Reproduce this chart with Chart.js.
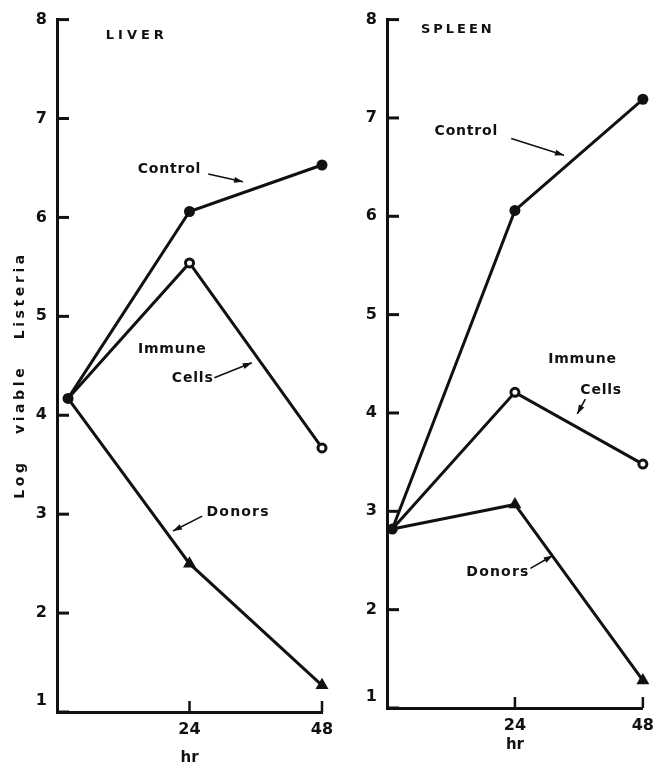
<!DOCTYPE html>
<html>
<head>
<meta charset="utf-8">
<script src="https://cdn.jsdelivr.net/npm/chart.js@4.4.0/dist/chart.umd.min.js"></script>
<style>
  html, body { margin: 0; padding: 0; background: #fff; }
  #wrap { position: relative; width: 662px; height: 767px; overflow: hidden; }
  canvas { position: absolute; top: 0; }
  #liver { left: 0; }
  #spleen { left: 345px; }
</style>
</head>
<body>
<div id="wrap">
  <canvas id="liver" width="345" height="767"></canvas>
  <canvas id="spleen" width="317" height="767"></canvas>
</div>
<script>
// hours after transfer, log viable Listeria
var liverHours = [2, 24, 48];
var liverControl = [4.17, 6.06, 6.53];
var liverImmune = [4.17, 5.54, 3.67];
var liverDonors = [4.17, 2.50, 1.27];

var spleenHours = [1, 24, 48];
var spleenControl = [2.82, 6.06, 7.19];
var spleenImmune = [2.82, 4.21, 3.48];
var spleenDonors = [2.82, 3.07, 1.28];

var yTicks = [1, 2, 3, 4, 5, 6, 7, 8];
var xTicks = [24, 48];

var ink = '#111';
var family = "'DejaVu Sans', sans-serif";

function points(hours, values) {
  return hours.map((h, i) => ({ x: h, y: values[i] }));
}

// the first point is shared, only the control marker shows there
function series(hours, values, kind) {
  var ds = {
    data: points(hours, values),
    borderColor: ink,
    borderWidth: 3,
    tension: 0,
    clip: false,
    pointBorderColor: ink
  };
  if (kind === 'control') {
    ds.pointStyle = 'circle';
    ds.pointRadius = 5.5;
    ds.pointBackgroundColor = ink;
    ds.pointBorderWidth = 0;
  } else if (kind === 'immune') {
    ds.pointStyle = 'circle';
    ds.pointRadius = ctx => ctx.dataIndex === 0 ? 0 : 4;
    ds.pointBackgroundColor = '#fff';
    ds.pointBorderWidth = 3;
  } else {
    ds.pointStyle = 'triangle';
    ds.pointRadius = ctx => ctx.dataIndex === 0 ? 0 : 7.5;
    ds.pointBackgroundColor = ink;
    ds.pointBorderWidth = 0;
  }
  return ds;
}

function arrowHead(ctx, x1, y1, x2, y2) {
  var a = Math.atan2(y2 - y1, x2 - x1);
  ctx.beginPath();
  ctx.moveTo(x2, y2);
  ctx.lineTo(x2 - 9 * Math.cos(a) + 3 * Math.sin(a), y2 - 9 * Math.sin(a) - 3 * Math.cos(a));
  ctx.lineTo(x2 - 9 * Math.cos(a) - 3 * Math.sin(a), y2 - 9 * Math.sin(a) + 3 * Math.cos(a));
  ctx.closePath();
  ctx.fill();
}

var paper = {
  id: 'paper',
  afterDraw(chart, args, opts) {
    var ctx = chart.ctx, x = chart.scales.x, y = chart.scales.y, area = chart.chartArea;
    ctx.save();
    ctx.strokeStyle = ink;
    ctx.fillStyle = ink;

    // tick marks point inward, as on the plate
    ctx.lineWidth = 3;
    yTicks.forEach(v => {
      var py = y.getPixelForValue(v);
      ctx.beginPath();
      ctx.moveTo(area.left, py);
      ctx.lineTo(area.left + 12, py);
      ctx.stroke();
    });
    ctx.lineWidth = 2.5;
    xTicks.forEach(v => {
      var px = x.getPixelForValue(v);
      ctx.beginPath();
      ctx.moveTo(px, area.bottom);
      ctx.lineTo(px, area.bottom - 11);
      ctx.stroke();
    });

    // lowest label sits a little above the x axis
    ctx.font = 'bold 16px ' + family;
    ctx.textAlign = 'right';
    ctx.textBaseline = 'middle';
    ctx.fillText('1', area.left - 10, y.getPixelForValue(1) - 11);

    ctx.textAlign = 'center';
    (opts.notes || []).forEach(n => {
      ctx.font = 'bold ' + n.size + 'px ' + family;
      if ('letterSpacing' in ctx) ctx.letterSpacing = n.spacing + 'px';
      ctx.fillText(n.text, x.getPixelForValue(n.at[0]) + n.spacing / 2, y.getPixelForValue(n.at[1]));
    });
    if ('letterSpacing' in ctx) ctx.letterSpacing = '0px';

    ctx.lineWidth = 1.6;
    (opts.arrows || []).forEach(a => {
      var x1 = x.getPixelForValue(a.from[0]), y1 = y.getPixelForValue(a.from[1]);
      var x2 = x.getPixelForValue(a.to[0]), y2 = y.getPixelForValue(a.to[1]);
      ctx.beginPath();
      ctx.moveTo(x1, y1);
      ctx.lineTo(x2, y2);
      ctx.stroke();
      arrowHead(ctx, x1, y1, x2, y2);
    });

    if (opts.yTitle) {
      ctx.translate(20, 377);
      ctx.rotate(-Math.PI / 2);
      ctx.font = 'bold 14px ' + family;
      if ('letterSpacing' in ctx) ctx.letterSpacing = '3.6px';
      ctx.fillText(opts.yTitle, 2, 0);
    }
    ctx.restore();
  }
};

function makeChart(id, hours, control, immune, donors, box, extras) {
  return new Chart(document.getElementById(id), {
    type: 'line',
    data: {
      datasets: [
        series(hours, control, 'control'),
        series(hours, immune, 'immune'),
        series(hours, donors, 'donors')
      ]
    },
    options: {
      responsive: false,
      animation: false,
      events: [],
      layout: { padding: box.padding },
      plugins: {
        legend: { display: false },
        tooltip: { enabled: false },
        paper: extras
      },
      scales: {
        x: {
          type: 'linear',
          min: 0,
          max: 48,
          afterBuildTicks: s => { s.ticks = xTicks.map(v => ({ value: v })); },
          afterFit: s => { s.height = box.xHeight; },
          grid: { display: false, drawTicks: false },
          border: { display: true, width: 3, color: ink },
          ticks: { padding: 8, color: ink, font: { family: family, size: 16, weight: 'bold' } },
          title: {
            display: true,
            text: 'hr',
            color: ink,
            padding: { top: 0, bottom: box.hrPad },
            font: { family: family, size: 15, weight: 'bold' }
          }
        },
        y: {
          min: 1,
          max: 8,
          afterBuildTicks: s => { s.ticks = yTicks.map(v => ({ value: v })); },
          afterFit: s => { s.width = box.yWidth; },
          grid: { display: false, drawTicks: false },
          border: { display: true, width: 3, color: ink },
          ticks: {
            padding: 10,
            color: ink,
            font: { family: family, size: 16, weight: 'bold' },
            callback: v => v === 1 ? '' : v
          }
        }
      }
    },
    plugins: [paper]
  });
}

makeChart('liver', liverHours, liverControl, liverImmune, liverDonors,
  { padding: { top: 16, right: 23, bottom: 0, left: 0 }, xHeight: 55, yWidth: 57, hrPad: 0 },
  {
    yTitle: 'Log   viable   Listeria',
    notes: [
      { text: 'LIVER', at: [14.1, 7.84], size: 13, spacing: 4 },
      { text: 'Control', at: [20.3, 6.49], size: 14, spacing: 0.8 },
      { text: 'Immune', at: [20.8, 4.67], size: 14, spacing: 0.8 },
      { text: 'Cells', at: [24.5, 4.37], size: 14, spacing: 0.8 },
      { text: 'Donors', at: [32.7, 3.02], size: 14, spacing: 1.2 }
    ],
    arrows: [
      { from: [27.4, 6.44], to: [33.7, 6.36] },
      { from: [28.5, 4.38], to: [35.3, 4.53] },
      { from: [26.3, 2.98], to: [21.0, 2.83] }
    ]
  });

makeChart('spleen', spleenHours, spleenControl, spleenImmune, spleenDonors,
  { padding: { top: 15, right: 13, bottom: 0, left: 0 }, xHeight: 59, yWidth: 42, hrPad: 13 },
  {
    notes: [
      { text: 'SPLEEN', at: [13.0, 7.9], size: 13, spacing: 3 },
      { text: 'Control', at: [14.8, 6.86], size: 14, spacing: 0.8 },
      { text: 'Immune', at: [36.6, 4.55], size: 14, spacing: 0.8 },
      { text: 'Cells', at: [40.1, 4.23], size: 14, spacing: 0.8 },
      { text: 'Donors', at: [20.7, 2.38], size: 14, spacing: 1.2 }
    ],
    arrows: [
      { from: [23.3, 6.79], to: [33.2, 6.62] },
      { from: [37.2, 4.14], to: [35.7, 3.99] },
      { from: [26.9, 2.42], to: [31.1, 2.55] }
    ]
  });
</script>
</body>
</html>
